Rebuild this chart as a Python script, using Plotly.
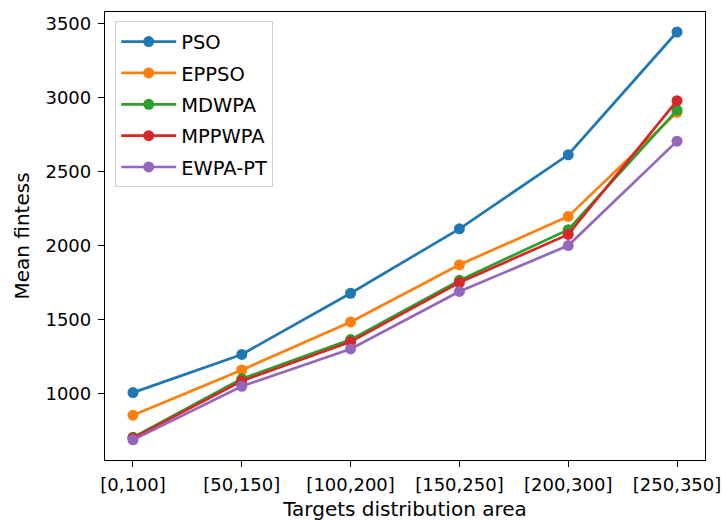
import plotly.graph_objects as go

# Target distribution areas (x categories)
areas = ["[0,100]", "[50,150]", "[100,200]", "[150,250]", "[200,300]", "[250,350]"]

# Mean fitness of each algorithm per area
pso = [1007, 1265, 1678, 2113, 2613, 3442]
eppso = [855, 1160, 1484, 1870, 2197, 2900]
mdwpa = [705, 1100, 1365, 1765, 2107, 2915]
mppwpa = [700, 1085, 1350, 1750, 2075, 2978]
ewpa_pt = [688, 1050, 1302, 1690, 2000, 2705]

series = [
    ("PSO", pso, "#1f77b4"),
    ("EPPSO", eppso, "#ff7f0e"),
    ("MDWPA", mdwpa, "#2ca02c"),
    ("MPPWPA", mppwpa, "#d62728"),
    ("EWPA-PT", ewpa_pt, "#9467bd"),
]

FONT = "DejaVu Sans"

fig = go.Figure()
for name, vals, color in series:
    fig.add_trace(go.Scatter(
        x=areas, y=vals, name=name, mode="lines+markers",
        legendgroup=name,
        line=dict(color=color, width=2.7),
        marker=dict(color=color, size=11),
    ))

axis_common = dict(
    showline=True, mirror=True, linecolor="black", linewidth=1.3,
    ticks="outside", ticklen=6, tickwidth=1.3, tickcolor="black",
    showgrid=False, zeroline=False, automargin=False,
    tickfont=dict(family=FONT, size=18, color="black"),
)

fig.update_layout(
    width=726, height=521,
    margin=dict(l=105, r=21, t=12, b=61),
    paper_bgcolor="white", plot_bgcolor="white",
    font=dict(family=FONT, color="black"),
    xaxis=dict(
        type="category", range=[-0.257, 5.257],
        title=dict(text="Targets distribution area", font=dict(family=FONT, size=20), standoff=12),
        ticklabelstandoff=2,
        **axis_common,
    ),
    yaxis=dict(
        range=[552, 3577], tickvals=[1000, 1500, 2000, 2500, 3000, 3500],
        title=dict(text="Mean fintess", font=dict(family=FONT, size=20), standoff=10),
        ticklabelstandoff=3,
        **axis_common,
    ),
    legend=dict(
        x=0.017, y=0.979, xanchor="left", yanchor="top",
        bgcolor="rgba(255,255,255,0.8)", bordercolor="#d0d0d0", borderwidth=1,
        font=dict(family=FONT, size=19.5, color="black"),
        itemwidth=55, tracegroupgap=3,
    ),
    showlegend=True,
)

fig.write_html("out.html")
